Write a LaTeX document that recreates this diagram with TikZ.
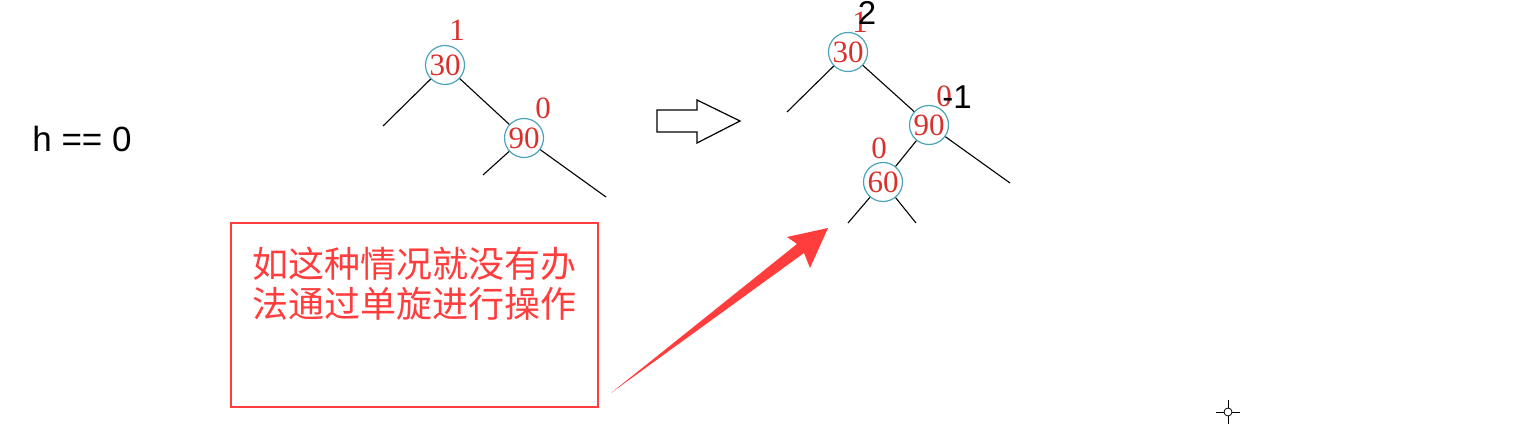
\documentclass[tikz,border=0pt]{standalone}
\usepackage{fontspec}
\setmainfont{Liberation Serif}
\newfontfamily\sansfont{Liberation Sans}
\newfontfamily\cjkfont{Noto Sans CJK SC}
\usetikzlibrary{positioning}
\definecolor{ringblue}{HTML}{4AA3B8}
\definecolor{numred}{HTML}{D9302C}
\definecolor{notered}{HTML}{FF3D3D}

\begin{document}
\begin{tikzpicture}[
    x=1pt, y=-1pt,
    every node/.style={inner sep=0pt},
    keynode/.style={circle, draw=ringblue, line width=1.2pt, minimum size=39pt, text=numred, font=\fontsize{31}{31}\selectfont},
    bal/.style={text=numred, font=\fontsize{31}{31}\selectfont},
    fix/.style={text=black, font=\sansfont\fontsize{33}{33}\selectfont},
    edge/.style={draw, line width=1.1pt},
    notebox/.style={rectangle, draw=notered, line width=2.5pt, minimum width=367pt, minimum height=184pt},
    note/.style={text=notered, align=center, font=\cjkfont\fontsize{36}{40}\selectfont}
]
\useasboundingbox (0,0) rectangle (1525,425);

% condition
\node[font=\sansfont\fontsize{35}{35}\selectfont] (cond) at (82,139) {h == 0};

% tree before
\node[keynode] (a30) at (445,65) {30};
\node[keynode] (a90) at (524,138) {90};
\node[bal] (ba30) at (457,30) {1};
\node[bal] (ba90) at (543,108) {0};
\coordinate (a30l) at (383,126);
\coordinate (a90l) at (483,175);
\coordinate (a90r) at (606,197);

% outline arrow
\draw[line width=1.2pt] (657,110) -- (697,110) -- (697,100) -- (740,121) -- (697,143) -- (697,132) -- (657,132) -- cycle;

% tree after
\node[keynode] (b30) at (848,52) {30};
\node[keynode] (b90) at (929,125) {90};
\node[keynode] (b60) at (883,182) {60};
\node[bal] (bb30) at (860,22) {1};
\node[fix] (fb30) at (867,13) {2};
\node[bal] (bb90) at (944,96) {0};
\node[fix] (fb90) at (957,97) {-1};
\node[bal] (bb60) at (879,148) {0};
\coordinate (b30l) at (787,112);
\coordinate (b90r) at (1010,183);
\coordinate (b60l) at (848,223);
\coordinate (b60r) at (916,223);

% edges
\path[edge] (a30) -- (a30l);
\path[edge] (a30) -- (a90);
\path[edge] (a90) -- (a90l);
\path[edge] (a90) -- (a90r);
\path[edge] (b30) -- (b30l);
\path[edge] (b30) -- (b90);
\path[edge] (b90) -- (b60);
\path[edge] (b90) -- (b90r);
\path[edge] (b60) -- (b60l);
\path[edge] (b60) -- (b60r);

% remark
\node[notebox] (box) at (414.5,315) {};
\node[note, below=25pt of box.north] (remark) {如这种情况就没有办\\法通过单旋进行操作};
\fill[notered] (611,393) -- (797,244) -- (787,237) -- (828,228) -- (810,268) -- (804,253) -- cycle;

% cursor
\draw[line width=0.8pt] (1228,412) circle (4);
\draw[line width=0.8pt] (1216,412) -- (1224,412) (1232,412) -- (1240,412)
  (1228,400) -- (1228,408) (1228,416) -- (1228,424);
\end{tikzpicture}
\end{document}
